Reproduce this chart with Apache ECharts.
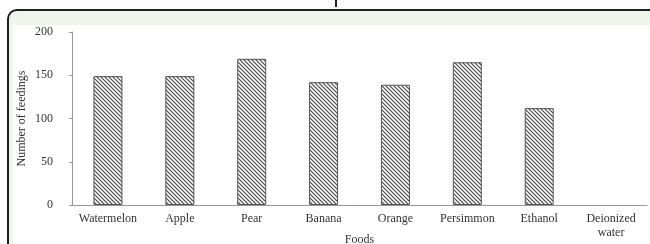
<!DOCTYPE html>
<html>
<head>
<meta charset="utf-8">
<script src="https://cdn.jsdelivr.net/npm/echarts@6/dist/echarts.min.js"></script>
<style>
  html, body { margin: 0; padding: 0; background: #fff; }
  #chart { width: 650px; height: 244px; }
</style>
</head>
<body>
<div id="chart"></div>
<script>
// data
var foods = ['Watermelon', 'Apple', 'Pear', 'Banana', 'Orange', 'Persimmon', 'Ethanol', 'Deionized\nwater']
var feedings = [149, 149, 169, 142, 139, 165, 112, 0]
var yTicks = [0, 50, 100, 150, 200]

// hatch fill  \\\\
function makeHatch () {
  var s = 4
  var c = document.createElement('canvas')
  c.width = s
  c.height = s
  var ctx = c.getContext('2d')
  ctx.fillStyle = '#fff'
  ctx.fillRect(0, 0, s, s)
  ctx.strokeStyle = '#4a4a4a'
  ctx.lineWidth = 1.2
  ctx.beginPath()
  ctx.moveTo(-1, -1); ctx.lineTo(s + 1, s + 1)
  ctx.moveTo(-1, s - 1); ctx.lineTo(1, s + 1)
  ctx.moveTo(s - 1, -1); ctx.lineTo(s + 1, 1)
  ctx.stroke()
  return c
}

var chart = echarts.init(document.getElementById('chart'))
var serif = '"Liberation Serif", "DejaVu Serif", serif'

// a zero bar should leave no outline
var barData = feedings.map(function (v) {
  return v === 0 ? { value: v, itemStyle: { borderWidth: 0 } } : v
})

var option = {
  animation: false,
  backgroundColor: '#fff',
  graphic: [
    {
      type: 'rect', z: -10,
      shape: { x: 8, y: 10, width: 700, height: 300, r: 9 },
      style: { fill: '#eef6ec', stroke: '#1e1e1e', lineWidth: 2 }
    },
    {
      type: 'rect', z: -9,
      shape: { x: 13, y: 25, width: 700, height: 300 },
      style: { fill: '#fff' }
    },
    {
      type: 'line', z: -9,
      shape: { x1: 336, y1: 0, x2: 336, y2: 7 },
      style: { stroke: '#222', lineWidth: 2 }
    }
  ],
  grid: { left: 72, right: 3, top: 32, bottom: 39, outerBoundsMode: 'none' },
  xAxis: {
    type: 'category',
    data: foods,
    name: 'Foods',
    nameLocation: 'middle',
    nameGap: 29,
    nameMoveOverlap: false,
    nameTextStyle: { fontFamily: serif, fontSize: 12, color: '#333' },
    axisLine: { lineStyle: { color: '#999', width: 1 } },
    axisTick: { inside: true, length: 3, lineStyle: { color: '#999' } },
    axisLabel: { interval: 0, hideOverlap: false, fontFamily: serif, fontSize: 12, color: '#333', margin: 7, lineHeight: 14 }
  },
  yAxis: {
    type: 'value',
    min: yTicks[0],
    max: yTicks[yTicks.length - 1],
    interval: 50,
    name: 'Number of feedings',
    nameLocation: 'middle',
    nameGap: 44,
    nameMoveOverlap: false,
    nameTextStyle: { fontFamily: serif, fontSize: 12, color: '#333' },
    axisLine: { show: true, lineStyle: { color: '#999', width: 1 } },
    axisTick: { show: true, inside: false, length: 3, lineStyle: { color: '#999' } },
    splitLine: { show: false },
    axisLabel: { fontFamily: serif, fontSize: 12, color: '#333', margin: 19 }
  },
  series: [{
    type: 'bar',
    data: barData,
    barWidth: 29,
    itemStyle: {
      color: { image: makeHatch(), repeat: 'repeat' },
      borderColor: '#555',
      borderWidth: 1
    }
  }]
}
chart.setOption(option)
</script>
</body>
</html>
